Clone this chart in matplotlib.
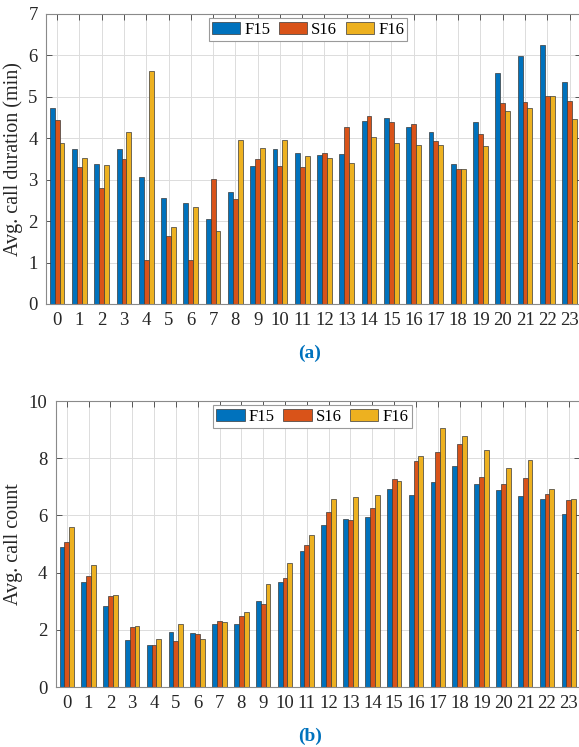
import matplotlib
matplotlib.use("Agg")
import matplotlib.pyplot as plt
import numpy as np

plt.rcParams['font.family'] = ['Liberation Serif', 'DejaVu Serif']

hours = list(range(24))
semesters = ["F15", "S16", "F16"]
colors = ["#0072BD", "#D95319", "#EDB120"]

# average call duration per hour of day (minutes)
duration_f15 = [4.74, 3.74, 3.38, 3.74, 3.06, 2.56, 2.43, 2.04, 2.70, 3.32, 3.74, 3.64,
                3.60, 3.63, 4.42, 4.49, 4.27, 4.16, 3.38, 4.39, 5.58, 5.98, 6.26, 5.37]
duration_s16 = [4.43, 3.31, 2.80, 3.49, 1.07, 1.64, 1.07, 3.02, 2.54, 3.50, 3.33, 3.31,
                3.64, 4.27, 4.55, 4.39, 4.35, 3.93, 3.27, 4.11, 4.86, 4.87, 5.03, 4.90]
duration_f16 = [3.88, 3.52, 3.36, 4.15, 5.62, 1.87, 2.35, 1.76, 3.96, 3.77, 3.96, 3.57,
                3.52, 3.40, 4.04, 3.89, 3.85, 3.85, 3.27, 3.81, 4.67, 4.73, 5.01, 4.47]

# average call count per hour of day
count_f15 = [4.91, 3.66, 2.83, 1.63, 1.48, 1.92, 1.89, 2.21, 2.22, 3.02, 3.66, 4.74,
             5.67, 5.89, 5.93, 6.94, 6.71, 7.16, 7.73, 7.10, 6.88, 6.69, 6.58, 6.04]
count_s16 = [5.06, 3.89, 3.17, 2.11, 1.48, 1.62, 1.85, 2.32, 2.48, 2.90, 3.81, 4.95,
             6.12, 5.84, 6.25, 7.28, 7.90, 8.21, 8.50, 7.33, 7.11, 7.31, 6.74, 6.53]
count_f16 = [5.59, 4.27, 3.21, 2.13, 1.68, 2.21, 1.68, 2.27, 2.63, 3.59, 4.32, 5.32,
             6.57, 6.66, 6.71, 7.19, 8.08, 9.05, 8.77, 8.27, 7.64, 7.93, 6.93, 6.59]

W, H = 579, 747
fig = plt.figure(figsize=(W / 100, H / 100), dpi=100)


def px_axes(left, top, right, bottom):
    return fig.add_axes([left / W, 1 - bottom / H, (right - left) / W, (bottom - top) / H])


def grouped_bars(ax, series, ymax, ylabel, ystep):
    x = np.arange(len(hours))
    width = 0.22
    offsets = [-width, 0.0, width]
    for vals, col, off, name in zip(series, colors, offsets, semesters):
        ax.bar(x + off, vals, width, color=col, edgecolor="#3a3a3a",
               linewidth=0.5, label=name, zorder=2)
    ax.set_xlim(-0.5, 23.5)
    ax.set_ylim(0, ymax)
    ax.set_xticks(x)
    ax.set_xticklabels([str(h) for h in hours])
    ax.set_yticks(np.arange(0, ymax + 0.01, ystep))
    ax.grid(True, color="#dcdcdc", linewidth=0.7, zorder=0)
    ax.set_axisbelow(True)
    ax.tick_params(direction="in", length=4, width=0.7, colors="#555555",
                   labelcolor="#262626", labelsize=13.5, top=True, right=True, pad=6)
    for sp in ax.spines.values():
        sp.set_color("#8a8a8a")
        sp.set_linewidth(0.8)
    ax.set_ylabel(ylabel, fontsize=14.5, color="#262626", labelpad=4)
    leg = ax.legend(loc="upper center", ncol=3, fontsize=12, frameon=True,
                    fancybox=False, edgecolor="#9a9a9a", framealpha=1,
                    handlelength=1.7, handleheight=0.8, handletextpad=0.25,
                    columnspacing=0.5, borderpad=0.2, borderaxespad=0.25,
                    bbox_to_anchor=(0.49, 1.0))
    leg.get_frame().set_linewidth(0.8)


ax1 = px_axes(46, 14, 580.7, 304)
grouped_bars(ax1, [duration_f15, duration_s16, duration_f16], 7,
             "Avg. call duration (min)", 1)

ax2 = px_axes(55.8, 401, 579.7, 687)
grouped_bars(ax2, [count_f15, count_s16, count_f16], 10,
             "Avg. call count", 2)

fig.text(310 / W, 1 - 353 / H, "(a)", ha="center", va="center",
         fontsize=14, fontweight="bold", color="#0072BD")
fig.text(310 / W, 1 - 736 / H, "(b)", ha="center", va="center",
         fontsize=14, fontweight="bold", color="#0072BD")

fig.savefig("out.png", dpi=100)
